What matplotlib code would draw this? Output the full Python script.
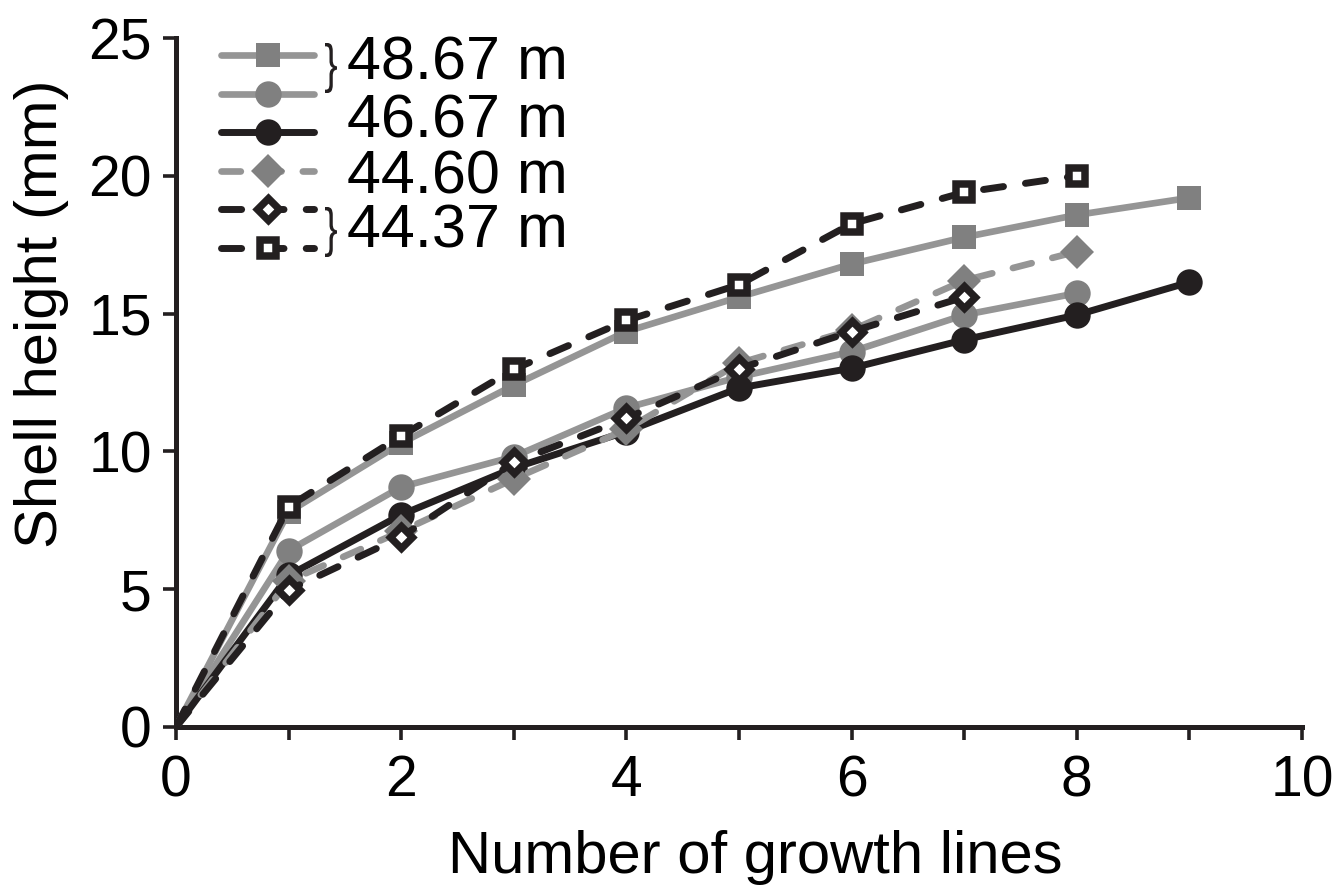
import matplotlib
matplotlib.use("Agg")
import matplotlib.pyplot as plt
from matplotlib.ticker import MultipleLocator
from matplotlib.textpath import TextPath
from matplotlib.patches import PathPatch
from matplotlib.font_manager import FontProperties
from matplotlib.transforms import Affine2D

plt.rcParams['font.family'] = ['Liberation Sans', 'DejaVu Sans']

# Mean shell height (mm) at each growth line, by collection depth
growth_lines = [0, 1, 2, 3, 4, 5, 6, 7, 8, 9]

h_4867_a = [0, 7.8, 10.3, 12.4, 14.35, 15.6, 16.8, 17.77, 18.58, 19.2]   # squares
h_4867_b = [0, 6.4, 8.71, 9.81, 11.58, 12.7, 13.62, 14.95, 15.74]        # circles
h_4667 = [0, 5.5, 7.7, 9.4, 10.72, 12.3, 13.02, 14.05, 14.95, 16.14]
h_4460 = [0, 5.3, 7.1, 9.0, 10.8, 13.2, 14.4, 16.2, 17.25]
h_4437_a = [0, 4.97, 6.9, 9.6, 11.2, 13.0, 14.35, 15.6]                  # diamonds
h_4437_b = [0, 8.0, 10.56, 12.98, 14.75, 16.05, 18.26, 19.4, 20.0]       # squares

depth_labels = ["48.67 m", "46.67 m", "44.60 m", "44.37 m"]

x_ticks = [0, 2, 4, 6, 8, 10]
y_ticks = [0, 5, 10, 15, 20, 25]

GRAY_LINE = "#959595"
GRAY_MARK = "#808080"
BLACK = "#231f20"

W, H, DPI = 1344, 890, 100
fig = plt.figure(figsize=(W / DPI, H / DPI), dpi=DPI)
ax = fig.add_axes([176 / W, 1 - 727 / H, (1302 - 176) / W, (727 - 38) / H])

DASH = (2.9, 3.2)
EVERY = slice(1, None)   # no marker at the origin

l1, = ax.plot(growth_lines[:len(h_4867_a)], h_4867_a, color=GRAY_LINE, lw=4.8,
              marker='s', ms=17, mfc=GRAY_MARK, mec=GRAY_MARK, mew=0, markevery=EVERY,
              solid_capstyle='round', zorder=3)
l2, = ax.plot(growth_lines[:len(h_4867_b)], h_4867_b, color=GRAY_LINE, lw=4.8,
              marker='o', ms=19, mfc=GRAY_MARK, mec=GRAY_MARK, mew=0, markevery=EVERY,
              solid_capstyle='round', zorder=4)
l3, = ax.plot(growth_lines[:len(h_4667)], h_4667, color=BLACK, lw=5,
              marker='o', ms=19, mfc=BLACK, mec=BLACK, mew=0, markevery=EVERY,
              solid_capstyle='round', zorder=5)
l4, = ax.plot(growth_lines[:len(h_4460)], h_4460, color=GRAY_LINE, lw=4.8,
              marker='D', ms=17, mfc=GRAY_MARK, mec=GRAY_MARK, mew=0, markevery=EVERY,
              dashes=DASH, dash_capstyle='round', zorder=6)
l5, = ax.plot(growth_lines[:len(h_4437_a)], h_4437_a, color=BLACK, lw=5,
              marker='D', ms=11.5, mfc='white', mec=BLACK, mew=5.3, markevery=EVERY,
              dashes=DASH, dash_capstyle='round', zorder=7)
l6, = ax.plot(growth_lines[:len(h_4437_b)], h_4437_b, color=BLACK, lw=5,
              marker='s', ms=12, mfc='white', mec=BLACK, mew=5.4, markevery=EVERY,
              dashes=DASH, dash_capstyle='round', zorder=8)

ax.set_xlim(0, 10)
ax.set_ylim(0, 25)
ax.set_xticks(x_ticks)
ax.set_yticks(y_ticks)
ax.xaxis.set_minor_locator(MultipleLocator(1))

for side in ('top', 'right'):
    ax.spines[side].set_visible(False)
for side in ('left', 'bottom'):
    ax.spines[side].set_linewidth(3.6)
    ax.spines[side].set_color(BLACK)
    ax.spines[side].set_capstyle('projecting')

ax.tick_params(axis='both', which='both', direction='out', length=9.5,
               width=2.6, color=BLACK, labelsize=41, labelcolor='black')
ax.tick_params(axis='x', which='both', pad=10)
ax.tick_params(axis='y', which='both', pad=8)

ax.set_xlabel("Number of growth lines", fontsize=43)
ax.set_ylabel("Shell height (mm)", fontsize=43)
ax.xaxis.set_label_coords(0.514, -0.150)
ax.yaxis.set_label_coords(-0.095, 0.60)

# Legend: marker/line keys only, depth texts set beside them
leg = ax.legend([l1, l2, l3, l4, l5, l6], [""] * 6, loc='upper left',
                bbox_to_anchor=(0.040, 0.99), frameon=False, fontsize=20,
                handlelength=3.35, handleheight=0.7, handletextpad=0.0,
                labelspacing=0.45, borderpad=0, borderaxespad=0, numpoints=1)

def fx(px):
    return (px - 176) / 1126

def fy(py):
    return (727 - py) / 689

txt = dict(transform=ax.transAxes, fontsize=44, va='center', ha='left', color='black')
ax.text(fx(347), fy(64), depth_labels[0], **txt)
ax.text(fx(347), fy(122), depth_labels[1], **txt)
ax.text(fx(347), fy(178), depth_labels[2], **txt)
ax.text(fx(347), fy(232), depth_labels[3], **txt)

# Tall, thin curly braces grouping two legend rows
brace_path = TextPath((0, 0), "}", size=20, prop=FontProperties(family='Liberation Sans'))
bb = brace_path.get_extents()

def add_brace(cx, cy, height, width):
    tr = (Affine2D()
          .translate(-(bb.x0 + bb.width / 2), -(bb.y0 + bb.height / 2))
          .scale(width / bb.width / DPI, height / bb.height / DPI)
          .translate(cx / DPI, (H - cy) / DPI)
          + fig.dpi_scale_trans)
    fig.add_artist(PathPatch(brace_path, transform=tr, facecolor=BLACK,
                             edgecolor='none', zorder=10))

add_brace(331, 68, 50, 12)
add_brace(331, 232, 50, 12)

fig.savefig("out.png", dpi=DPI)
